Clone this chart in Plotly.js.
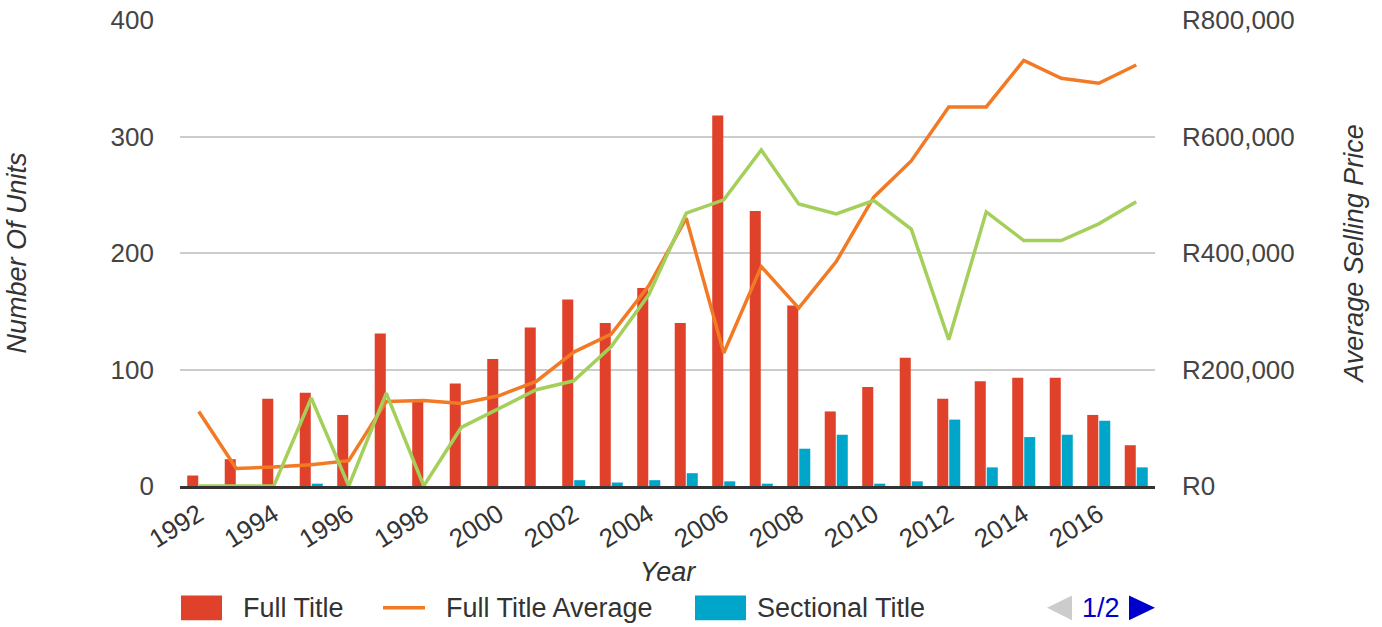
<!DOCTYPE html>
<html>
<head>
<meta charset="utf-8">
<script src="https://cdn.plot.ly/plotly-3.0.1.min.js"></script>
<style>
html,body{margin:0;padding:0;background:#fff;}
#chart{width:1382px;height:627px;}
</style>
</head>
<body>
<div id="chart"></div>
<script>
const years = [1992,1993,1994,1995,1996,1997,1998,1999,2000,2001,2002,2003,2004,2005,2006,2007,2008,2009,2010,2011,2012,2013,2014,2015,2016,2017];
const fullTitle = [9,23,75,80,61,131,74,88,109,136,160,140,170,140,318,236,155,64,85,110,75,90,93,93,61,35];
const sectionalTitle = [0,0,0,2,0,0,0,0,0,0,5,3,5,11,4,2,32,44,2,4,57,16,42,44,56,16];
const fullTitleAvg = [128000,30200,32600,36500,43400,145100,146900,141700,154900,179500,229900,260800,343600,459800,228200,376700,305400,385300,495800,558100,650700,650700,730800,700000,691400,722800];
const sectionalTitleAvg = [0,0,0,151000,0,159600,0,100500,132100,165200,180600,239500,328200,468400,491200,577000,484300,467200,490000,440900,251000,470600,421400,421400,450000,487800];
const seriesNames = ["Full Title","Full Title Average","Sectional Title","Sectional Title Average"];
const colors = {red:"#E0412A", orange:"#F27A24", blue:"#00A6CA", green:"#A5CF5B"};

const FONT = "Liberation Sans, Arial, sans-serif";

const traces = [
  {type:"bar", name:seriesNames[0], x:years, y:fullTitle, marker:{color:colors.red}, yaxis:"y", hoverinfo:"x+y"},
  {type:"bar", name:seriesNames[2], x:years, y:sectionalTitle, marker:{color:colors.blue}, yaxis:"y", hoverinfo:"x+y"},
  {type:"scatter", mode:"lines", name:seriesNames[1], x:years, y:fullTitleAvg, yaxis:"y2", line:{color:colors.orange, width:3.5}},
  {type:"scatter", mode:"lines", name:seriesNames[3], x:years, y:sectionalTitleAvg, yaxis:"y2", line:{color:colors.green, width:3.5}}
];

// custom legend (paper coords: plot area x from 0 to 1)
const L = 180, R = 1155, T = 20, B = 486.5, W = 1382, H = 627;
const px = v => (v - L) / (R - L);
const py = v => (B - v) / (B - T);

const shapes = [
  {type:"rect", xref:"paper", yref:"paper", x0:px(181), x1:px(222), y0:py(621), y1:py(596), fillcolor:colors.red, line:{width:0}},
  {type:"line", xref:"paper", yref:"paper", x0:px(383), x1:px(425), y0:py(608.5), y1:py(608.5), line:{color:colors.orange, width:3.5}},
  {type:"rect", xref:"paper", yref:"paper", x0:px(695), x1:px(746), y0:py(621), y1:py(596), fillcolor:colors.blue, line:{width:0}},
  {type:"path", xref:"paper", yref:"paper",
   path:"M "+px(1072)+","+py(596)+" L "+px(1072)+","+py(621)+" L "+px(1047)+","+py(608.5)+" Z",
   fillcolor:"#CCCCCC", line:{width:0}},
  {type:"path", xref:"paper", yref:"paper",
   path:"M "+px(1129)+","+py(596)+" L "+px(1129)+","+py(621)+" L "+px(1155)+","+py(608.5)+" Z",
   fillcolor:"#0000CC", line:{width:0}}
];
const legText = (t, x) => ({xref:"paper", yref:"paper", x:px(x), y:py(609), xanchor:"left", yanchor:"middle", text:t, showarrow:false, font:{family:FONT, size:27, color:"#333"}});
const annotations = [
  legText(seriesNames[0], 241),
  legText(seriesNames[1], 444),
  legText(seriesNames[2], 755),
  {xref:"paper", yref:"paper", x:px(1101), y:py(609), xanchor:"center", yanchor:"middle", text:"1/2", showarrow:false, font:{family:FONT, size:27, color:"#0000CC"}}
];

const layout = {
  width:W, height:H,
  margin:{l:L, r:W-R, t:T, b:H-B},
  paper_bgcolor:"#fff", plot_bgcolor:"#fff",
  font:{family:FONT, size:26, color:"#444"},
  showlegend:false,
  barmode:"group", bargap:0.36, bargroupgap:0.08,
  xaxis:{
    range:[1991.5, 2017.5], tickmode:"linear", tick0:1992, dtick:2,
    tickangle:-32, showgrid:false, zeroline:false,
    showline:true, linecolor:"#333", linewidth:3, ticks:"",
    tickfont:{family:FONT, size:26, color:"#333"},
    title:{text:"Year", font:{family:FONT, size:27, color:"#333", style:"italic"}, standoff:10}
  },
  yaxis:{
    range:[0,400], tickmode:"linear", tick0:0, dtick:100,
    showgrid:true, gridcolor:"#CCCCCC", gridwidth:2, zeroline:false, showline:false, ticks:"",
    ticklabelstandoff:25,
    tickfont:{family:FONT, size:26, color:"#444"},
    title:{text:"Number Of Units", font:{family:FONT, size:27, color:"#333", style:"italic"}, standoff:76}
  },
  yaxis2:{
    overlaying:"y", side:"right", range:[0,800000], tickmode:"linear", tick0:0, dtick:200000,
    tickprefix:"R", tickformat:",d", showgrid:false, zeroline:false, showline:false, ticks:"",
    ticklabelstandoff:26,
    tickfont:{family:FONT, size:26, color:"#444"},
    title:{text:"Average Selling Price", font:{family:FONT, size:27, color:"#333", style:"italic"}, standoff:50}
  },
  shapes:shapes,
  annotations:annotations
};

Plotly.newPlot("chart", traces, layout, {displayModeBar:false, responsive:false});
</script>
</body>
</html>
